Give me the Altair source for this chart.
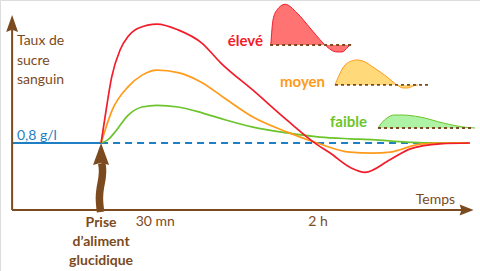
import altair as alt
import pandas as pd

# ---- main curves: time (min after the meal) vs blood sugar (g/l) ----
red_t = [0, 2.2, 5.9, 10.5, 14.9, 20.5, 31, 42.6, 55.9, 66, 84, 103, 119.5, 126.7, 137.7, 146, 159.8, 171, 187.5, 204]
red_g = [0.80, 1.11, 1.59, 1.91, 2.07, 2.17, 2.22, 2.15, 1.99, 1.76, 1.43, 1.07, 0.78, 0.68, 0.51, 0.45, 0.60, 0.73, 0.79, 0.80]
orange_t = [0, 6.1, 14.9, 22.7, 31, 42.6, 55.9, 68, 84, 103, 119.5, 137.7, 150, 160, 165.4, 171, 178, 189, 204]
orange_g = [0.80, 1.19, 1.47, 1.61, 1.67, 1.64, 1.52, 1.34, 1.11, 0.93, 0.80, 0.69, 0.68, 0.69, 0.72, 0.76, 0.79, 0.80, 0.80]
green_t = [0, 3.9, 7.7, 14.9, 22.7, 31, 42.6, 55.9, 68, 84, 103, 121, 138, 150, 169, 188, 204]
green_g = [0.80, 0.84, 0.93, 1.13, 1.23, 1.25, 1.23, 1.16, 1.08, 0.99, 0.92, 0.87, 0.85, 0.84, 0.81, 0.80, 0.80]

# ---- small illustrative shapes (same units) ----
mini_red_t = [93.9, 95.1, 97.3, 101.8, 108.4, 115.6, 122.8, 123.9, 130.5, 133.3, 136.6, 137.7]
mini_red_g = [1.970, 2.269, 2.388, 2.456, 2.352, 2.173, 1.994, 1.970, 1.887, 1.887, 1.946, 1.970]
mini_red_base = [93.5, 139.4, 1.970]
mini_orange_t = [129.4, 131.3, 134.1, 137.7, 141.6, 146.0, 150.4, 158.2, 163.7, 167.0, 169.8, 172.6, 175.3]
mini_orange_g = [1.493, 1.592, 1.707, 1.771, 1.791, 1.767, 1.707, 1.588, 1.493, 1.457, 1.457, 1.481, 1.493]
mini_orange_base = [129.4, 180.9, 1.493]
mini_green_t = [153.2, 155.3, 158.2, 162.1, 166.5, 176.4, 189.2, 200.2, 206.9]
mini_green_g = [0.979, 1.042, 1.099, 1.134, 1.134, 1.110, 1.039, 0.991, 0.979]
mini_green_base = [153.2, 205.8, 0.979]

# ---- reference level and axes ----
ref_level = 0.8
t_start, t_end = -49.2, 204
meal_shaft_t = [0.3, 0.94, 0.72, -0.55, -1.1, -0.55, -0.28]
meal_shaft_g = [0.56, 0.501, 0.382, 0.263, 0.143, 0.024, -0.024]

tick_labels = ["30 mn", "2 h"]
tick_t = [30, 120]

X_DOMAIN = [-55.9, 209.6]
Y_DOMAIN = [-0.728, 2.507]

BROWN = "#7b4a1e"
BLUE = "#1f7fc4"
RED = "#f21c2a"
ORANGE = "#ff9a1a"
GREEN = "#6cc42c"
FONT = "Lato"

xs = alt.Scale(domain=X_DOMAIN, nice=False, zero=False)
ys = alt.Scale(domain=Y_DOMAIN, nice=False, zero=False)


def X(f="t"):
    return alt.X(f"{f}:Q", scale=xs, axis=None)


def Y(f="g"):
    return alt.Y(f"{f}:Q", scale=ys, axis=None)


layers = []

# blue 0.8 g/l line
blue_solid = pd.DataFrame({"t": [t_start, 0], "g": [ref_level, ref_level]})
blue_dash = pd.DataFrame({"t": [0, t_end], "g": [ref_level, ref_level]})
layers.append(alt.Chart(blue_solid).mark_line(color=BLUE, strokeWidth=2).encode(x=X(), y=Y()))
layers.append(alt.Chart(blue_dash).mark_line(color=BLUE, strokeWidth=2, strokeDash=[7, 5]).encode(x=X(), y=Y()))

# axes
yaxis = pd.DataFrame({"t": [t_start], "g": [0.0], "g2": [2.15]})
layers.append(alt.Chart(yaxis).mark_rule(color=BROWN, strokeWidth=2).encode(x=X(), y=Y(), y2="g2:Q"))
xaxis = pd.DataFrame({"t": [t_start], "t2": [199.7], "g": [0.0]})
layers.append(alt.Chart(xaxis).mark_rule(color=BROWN, strokeWidth=2).encode(x=X(), x2="t2:Q", y=Y()))
ahead_up = pd.DataFrame({"t": [t_start], "g": [2.227]})
layers.append(alt.Chart(ahead_up).mark_point(shape="M0,-1L0.7,1L0,0.75L-0.7,1Z", size=289, filled=True,
                                              color=BROWN, opacity=1, strokeWidth=0).encode(x=X(), y=Y()))
ahead_right = pd.DataFrame({"t": [202.2], "g": [0.0]})
layers.append(alt.Chart(ahead_right).mark_point(shape="M1,0L-1,0.8L-0.75,0L-1,-0.8Z", size=196, filled=True,
                                                 color=BROWN, opacity=1, strokeWidth=0).encode(x=X(), y=Y()))

# main curves
rows = []
for name, ts, gs in [("faible", green_t, green_g), ("moyen", orange_t, orange_g), ("élevé", red_t, red_g)]:
    for i, (t, g) in enumerate(zip(ts, gs)):
        rows.append({"s": name, "t": t, "g": g, "o": i})
curves = pd.DataFrame(rows)
cscale = alt.Scale(domain=["élevé", "moyen", "faible"], range=[RED, ORANGE, GREEN])
layers.append(alt.Chart(curves).mark_line(interpolate="monotone", strokeWidth=1.7).encode(
    x=X(), y=Y(), color=alt.Color("s:N", scale=cscale, legend=None), detail="s:N", order="o:Q"))

# mini shapes
for ts, gs, base, fill, stroke in [
    (mini_red_t, mini_red_g, mini_red_base, "#ff7373", RED),
    (mini_orange_t, mini_orange_g, mini_orange_base, "#ffd97a", ORANGE),
    (mini_green_t, mini_green_g, mini_green_base, "#aef2a6", GREEN),
]:
    d = pd.DataFrame({"t": ts, "g": gs, "b": [base[2]] * len(ts)})
    layers.append(alt.Chart(d).mark_area(interpolate="monotone", color=fill, opacity=1).encode(
        x=X(), y=Y(), y2="b:Q"))
    layers.append(alt.Chart(d).mark_line(interpolate="monotone", color=stroke, strokeWidth=1).encode(
        x=X(), y=Y()))
    bd = pd.DataFrame({"t": [base[0]], "t2": [base[1]], "g": [base[2]]})
    layers.append(alt.Chart(bd).mark_rule(color=BROWN, strokeWidth=1.8, strokeDash=[3, 3]).encode(
        x=X(), x2="t2:Q", y=Y()))

# meal arrow
shaft = pd.DataFrame({"t": meal_shaft_t, "g": meal_shaft_g, "o": list(range(len(meal_shaft_t)))})
layers.append(alt.Chart(shaft).mark_line(interpolate="basis", color=BROWN, strokeWidth=7.5).encode(
    x=X(), y=Y(), order="o:Q"))
mhead = pd.DataFrame({"t": [0], "g": [0.669]})
layers.append(alt.Chart(mhead).mark_point(shape="M0,-1L0.73,1L0,0.8L-0.73,1Z", size=484, filled=True,
                                           color=BROWN, opacity=1, strokeWidth=0).encode(x=X(), y=Y()))


def label(text, t, g, color, size=14, weight="normal", align="left"):
    d = pd.DataFrame({"t": [t], "g": [g], "txt": [text]})
    return alt.Chart(d).mark_text(font=FONT, fontSize=size, fontWeight=weight, color=color,
                                  align=align, baseline="middle").encode(x=X(), y=Y(), text="txt:N")


layers.append(label("Taux de", -46.5, 2.018, BROWN))
layers.append(label("sucre", -46.5, 1.779, BROWN))
layers.append(label("sanguin", -46.5, 1.552, BROWN))
layers.append(label("0,8 g/l", -46.5, 0.884, BLUE))
layers.append(label("Temps", 195.8, 0.119, BROWN, align="right"))
for lab, t in zip(tick_labels, tick_t):
    layers.append(label(lab, t, -0.143, BROWN, align="center"))
layers.append(label("Prise", 0, -0.155, BROWN, weight="bold", align="center"))
layers.append(label("d\u2019aliment", 0, -0.382, BROWN, weight="bold", align="center"))
layers.append(label("glucidique", 0, -0.609, BROWN, weight="bold", align="center"))
layers.append(label("élevé", 89.6, 2.018, RED, size=15, weight="bold", align="right"))
layers.append(label("moyen", 123.9, 1.528, ORANGE, size=15, weight="bold", align="right"))
layers.append(label("faible", 147.1, 1.051, GREEN, size=15, weight="bold", align="right"))

chart = alt.layer(*layers).properties(
    width=480, height=271, padding=0, autosize=alt.AutoSizeParams(type="none")
).configure_view(stroke=None).configure(background="white")

chart.save("out.html", embed_options={"renderer": "svg", "actions": False})
